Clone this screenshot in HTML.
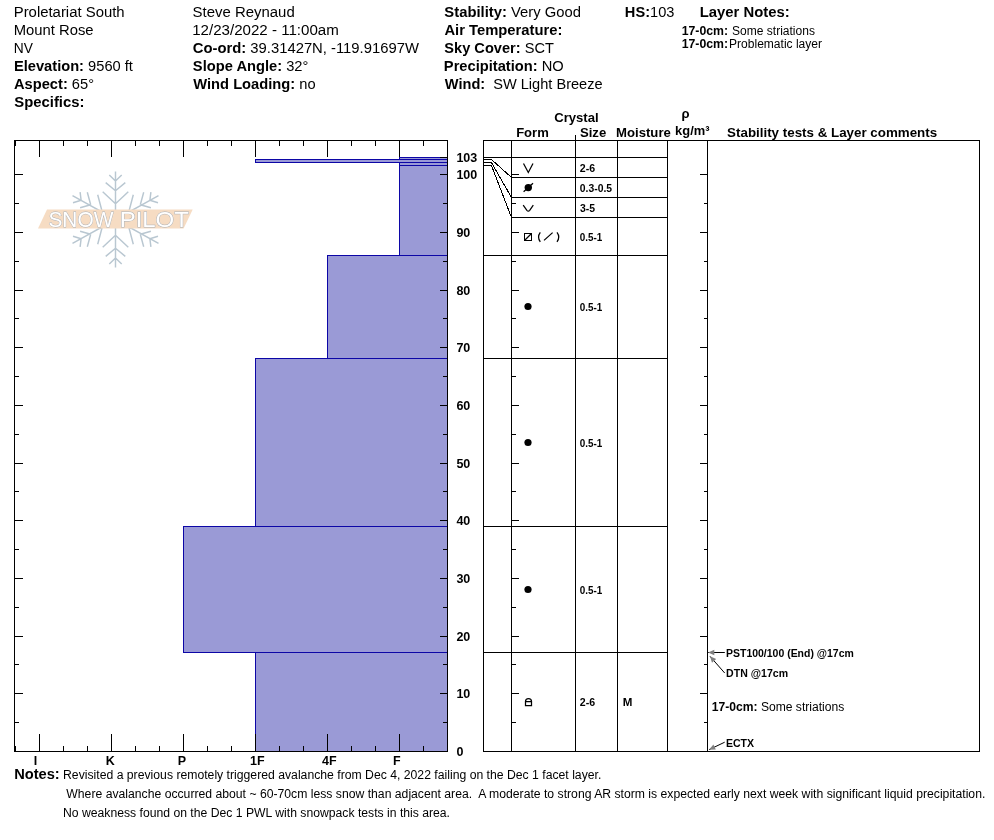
<!DOCTYPE html>
<html lang="en"><head><meta charset="utf-8"><title>Snow Pit Profile</title>
<style>
html,body{margin:0;padding:0;background:#fff;}
body{width:994px;height:840px;overflow:hidden;position:relative;font-family:"Liberation Sans",Arial,sans-serif;color:#000;}
svg{position:absolute;left:0;top:0;display:block;}
text{font-family:"Liberation Sans",Arial,sans-serif;fill:#000;}
.b{font-weight:bold;}
.h{font-size:14.67px;}
.n{font-size:12px;}
.s{font-size:10px;font-weight:bold;}
.ax{font-size:12.5px;font-weight:bold;}
.th{font-size:13px;font-weight:bold;}
.ln{stroke:#000;stroke-width:1;fill:none;shape-rendering:crispEdges;}
.sym{stroke:#000;stroke-width:1.25;fill:none;}
</style></head><body>
<svg width="994" height="840" viewBox="0 0 994 840">
<rect x="0" y="0" width="994" height="840" fill="#fff"/>
<text x="13.71" y="16.9" textLength="110.94" lengthAdjust="spacingAndGlyphs" style="font-size:14.9px" xml:space="preserve">Proletariat South</text>
<text x="13.71" y="34.9" textLength="79.9" lengthAdjust="spacingAndGlyphs" style="font-size:14.9px" xml:space="preserve">Mount Rose</text>
<text x="13.8" y="52.9" textLength="19.13" lengthAdjust="spacingAndGlyphs" style="font-size:14.9px" xml:space="preserve">NV</text>
<text x="13.95" y="70.9" textLength="119.0" lengthAdjust="spacingAndGlyphs" style="font-size:14.9px" xml:space="preserve"><tspan class="b">Elevation:</tspan> 9560 ft</text>
<text x="14.03" y="88.9" textLength="80.01" lengthAdjust="spacingAndGlyphs" style="font-size:14.9px" xml:space="preserve"><tspan class="b">Aspect:</tspan> 65°</text>
<text x="14.25" y="106.9" textLength="70.25" lengthAdjust="spacingAndGlyphs" style="font-size:14.9px" xml:space="preserve"><tspan class="b">Specifics:</tspan></text>
<text x="192.63" y="16.9" textLength="102.09" lengthAdjust="spacingAndGlyphs" style="font-size:14.9px" xml:space="preserve">Steve Reynaud</text>
<text x="192.17" y="34.9" textLength="146.66" lengthAdjust="spacingAndGlyphs" style="font-size:14.9px" xml:space="preserve">12/23/2022 - 11:00am</text>
<text x="192.71" y="52.9" textLength="226.21" lengthAdjust="spacingAndGlyphs" style="font-size:14.9px" xml:space="preserve"><tspan class="b">Co-ord:</tspan> 39.31427N, -119.91697W</text>
<text x="192.86" y="70.9" textLength="115.51" lengthAdjust="spacingAndGlyphs" style="font-size:14.9px" xml:space="preserve"><tspan class="b">Slope Angle:</tspan> 32°</text>
<text x="193.3" y="88.9" textLength="122.27" lengthAdjust="spacingAndGlyphs" style="font-size:14.9px" xml:space="preserve"><tspan class="b">Wind Loading:</tspan> no</text>
<text x="444.36" y="16.9" textLength="136.52" lengthAdjust="spacingAndGlyphs" style="font-size:14.9px" xml:space="preserve"><tspan class="b">Stability:</tspan> Very Good</text>
<text x="444.43" y="34.9" textLength="117.95" lengthAdjust="spacingAndGlyphs" style="font-size:14.9px" xml:space="preserve"><tspan class="b">Air Temperature:</tspan></text>
<text x="444.36" y="52.9" textLength="109.47" lengthAdjust="spacingAndGlyphs" style="font-size:14.9px" xml:space="preserve"><tspan class="b">Sky Cover:</tspan> SCT</text>
<text x="443.85" y="70.9" textLength="119.85" lengthAdjust="spacingAndGlyphs" style="font-size:14.9px" xml:space="preserve"><tspan class="b">Precipitation:</tspan> NO</text>
<text x="444.8" y="88.9" textLength="157.81" lengthAdjust="spacingAndGlyphs" style="font-size:14.9px" xml:space="preserve"><tspan class="b">Wind:</tspan>  SW Light Breeze</text>
<text x="624.85" y="16.9" textLength="49.55" lengthAdjust="spacingAndGlyphs" style="font-size:14.9px" xml:space="preserve"><tspan class="b">HS:</tspan>103</text>
<text x="699.73" y="16.9" textLength="90.05" lengthAdjust="spacingAndGlyphs" style="font-size:14.9px" xml:space="preserve"><tspan class="b">Layer Notes:</tspan></text>
<text x="681.66" y="34.8" textLength="46.4" lengthAdjust="spacingAndGlyphs" style="font-size:12px" xml:space="preserve"><tspan class="b">17-0cm:</tspan></text>
<text x="732.06" y="34.8" textLength="82.88" lengthAdjust="spacingAndGlyphs" style="font-size:12px" xml:space="preserve">Some striations</text>
<text x="681.66" y="47.8" textLength="46.4" lengthAdjust="spacingAndGlyphs" style="font-size:12px" xml:space="preserve"><tspan class="b">17-0cm:</tspan></text>
<text x="729.04" y="47.8" textLength="93.01" lengthAdjust="spacingAndGlyphs" style="font-size:12px" xml:space="preserve">Problematic layer</text>
<g stroke="#b9c7d1" stroke-width="1.45" stroke-linecap="butt" fill="none">
<path d="M115.5 219.5L115.5 171.5 M115.5 181.1L109.3 175.1 M115.5 181.1L121.7 175.1 M115.5 190.7L105.7 182.6 M115.5 190.7L125.3 182.6 M115.5 203.7L102.7 191.7 M115.5 203.7L128.3 191.7 M115.5 219.5L115.5 267.5 M115.5 257.9L109.3 263.9 M115.5 257.9L121.7 263.9 M115.5 248.3L105.7 256.4 M115.5 248.3L125.3 256.4 M115.5 235.3L102.7 247.3 M115.5 235.3L128.3 247.3 M115.5 219.5L72.5 195.7 M81.1 200.2L80.1 192.2 M81.1 200.2L73.0 202.7 M90.7 204.7L87.3 192.2 M90.7 204.7L80.1 207.8 M102.3 212.2L97.7 194.7 M102.3 212.2L89.5 216.5 M115.5 219.5L72.5 243.3 M81.1 238.8L80.1 246.8 M81.1 238.8L73.0 236.3 M90.7 234.3L87.3 246.8 M90.7 234.3L80.1 231.2 M102.3 226.8L97.7 244.3 M102.3 226.8L89.5 222.5 M115.5 219.5L158.5 195.7 M149.9 200.2L150.9 192.2 M149.9 200.2L158.0 202.7 M140.3 204.7L143.7 192.2 M140.3 204.7L150.9 207.8 M128.7 212.2L133.3 194.7 M128.7 212.2L141.5 216.5 M115.5 219.5L158.5 243.3 M149.9 238.8L150.9 246.8 M149.9 238.8L158.0 236.3 M140.3 234.3L143.7 246.8 M140.3 234.3L150.9 231.2 M128.7 226.8L133.3 244.3 M128.7 226.8L141.5 222.5"/>
</g>
<polygon points="47,209.5 192.7,209.5 183.6,228.6 38,228.6" fill="#f6dcc3"/>
<text y="227.3" lengthAdjust="spacingAndGlyphs" style="font-size:22.3px;fill:#fff;stroke:#a9b0b8;stroke-width:0.9;paint-order:stroke;"><tspan x="48.46" textLength="64.86" lengthAdjust="spacingAndGlyphs">SNOW</tspan> <tspan x="119.68" textLength="69.19" lengthAdjust="spacingAndGlyphs">PILOT</tspan></text>
<rect x="399.5" y="157.5" width="48" height="2" fill="#9a9ad6" stroke="#0c06a6" stroke-width="1" shape-rendering="crispEdges"/>
<rect x="255.5" y="159.5" width="192" height="3" fill="#9a9ad6" stroke="#0c06a6" stroke-width="1" shape-rendering="crispEdges"/>
<rect x="399.5" y="162.5" width="48" height="3" fill="#9a9ad6" stroke="#0c06a6" stroke-width="1" shape-rendering="crispEdges"/>
<rect x="399.5" y="165.5" width="48" height="90" fill="#9a9ad6" stroke="#0c06a6" stroke-width="1" shape-rendering="crispEdges"/>
<rect x="327.5" y="255.5" width="120" height="103" fill="#9a9ad6" stroke="#0c06a6" stroke-width="1" shape-rendering="crispEdges"/>
<rect x="255.5" y="358.5" width="192" height="168" fill="#9a9ad6" stroke="#0c06a6" stroke-width="1" shape-rendering="crispEdges"/>
<rect x="183.5" y="526.5" width="264" height="126" fill="#9a9ad6" stroke="#0c06a6" stroke-width="1" shape-rendering="crispEdges"/>
<rect x="255.5" y="652.5" width="192" height="99" fill="#9a9ad6" stroke="#0c06a6" stroke-width="1" shape-rendering="crispEdges"/>
<rect x="14" y="140" width="434" height="1" fill="#000" shape-rendering="crispEdges"/>
<rect x="14" y="751" width="434" height="1" fill="#000" shape-rendering="crispEdges"/>
<rect x="14" y="140" width="1" height="612" fill="#000" shape-rendering="crispEdges"/>
<rect x="447" y="140" width="1" height="612" fill="#000" shape-rendering="crispEdges"/>
<rect x="15" y="141" width="1" height="5" fill="#000" shape-rendering="crispEdges"/>
<rect x="15" y="746" width="1" height="5" fill="#000" shape-rendering="crispEdges"/>
<rect x="39" y="141" width="1" height="16" fill="#000" shape-rendering="crispEdges"/>
<rect x="39" y="734" width="1" height="17" fill="#000" shape-rendering="crispEdges"/>
<rect x="63" y="141" width="1" height="5" fill="#000" shape-rendering="crispEdges"/>
<rect x="63" y="746" width="1" height="5" fill="#000" shape-rendering="crispEdges"/>
<rect x="87" y="141" width="1" height="5" fill="#000" shape-rendering="crispEdges"/>
<rect x="87" y="746" width="1" height="5" fill="#000" shape-rendering="crispEdges"/>
<rect x="111" y="141" width="1" height="16" fill="#000" shape-rendering="crispEdges"/>
<rect x="111" y="734" width="1" height="17" fill="#000" shape-rendering="crispEdges"/>
<rect x="135" y="141" width="1" height="5" fill="#000" shape-rendering="crispEdges"/>
<rect x="135" y="746" width="1" height="5" fill="#000" shape-rendering="crispEdges"/>
<rect x="159" y="141" width="1" height="5" fill="#000" shape-rendering="crispEdges"/>
<rect x="159" y="746" width="1" height="5" fill="#000" shape-rendering="crispEdges"/>
<rect x="183" y="141" width="1" height="16" fill="#000" shape-rendering="crispEdges"/>
<rect x="183" y="734" width="1" height="17" fill="#000" shape-rendering="crispEdges"/>
<rect x="207" y="141" width="1" height="5" fill="#000" shape-rendering="crispEdges"/>
<rect x="207" y="746" width="1" height="5" fill="#000" shape-rendering="crispEdges"/>
<rect x="231" y="141" width="1" height="5" fill="#000" shape-rendering="crispEdges"/>
<rect x="231" y="746" width="1" height="5" fill="#000" shape-rendering="crispEdges"/>
<rect x="255" y="141" width="1" height="16" fill="#000" shape-rendering="crispEdges"/>
<rect x="255" y="734" width="1" height="17" fill="#000" shape-rendering="crispEdges"/>
<rect x="279" y="141" width="1" height="5" fill="#000" shape-rendering="crispEdges"/>
<rect x="279" y="746" width="1" height="5" fill="#000" shape-rendering="crispEdges"/>
<rect x="303" y="141" width="1" height="5" fill="#000" shape-rendering="crispEdges"/>
<rect x="303" y="746" width="1" height="5" fill="#000" shape-rendering="crispEdges"/>
<rect x="327" y="141" width="1" height="16" fill="#000" shape-rendering="crispEdges"/>
<rect x="327" y="734" width="1" height="17" fill="#000" shape-rendering="crispEdges"/>
<rect x="351" y="141" width="1" height="5" fill="#000" shape-rendering="crispEdges"/>
<rect x="351" y="746" width="1" height="5" fill="#000" shape-rendering="crispEdges"/>
<rect x="375" y="141" width="1" height="5" fill="#000" shape-rendering="crispEdges"/>
<rect x="375" y="746" width="1" height="5" fill="#000" shape-rendering="crispEdges"/>
<rect x="399" y="141" width="1" height="16" fill="#000" shape-rendering="crispEdges"/>
<rect x="399" y="734" width="1" height="17" fill="#000" shape-rendering="crispEdges"/>
<rect x="423" y="141" width="1" height="5" fill="#000" shape-rendering="crispEdges"/>
<rect x="423" y="746" width="1" height="5" fill="#000" shape-rendering="crispEdges"/>
<rect x="15" y="722" width="4" height="1" fill="#000" shape-rendering="crispEdges"/>
<rect x="443" y="722" width="4" height="1" fill="#000" shape-rendering="crispEdges"/>
<rect x="15" y="693" width="8" height="1" fill="#000" shape-rendering="crispEdges"/>
<rect x="440" y="693" width="7" height="1" fill="#000" shape-rendering="crispEdges"/>
<rect x="15" y="664" width="4" height="1" fill="#000" shape-rendering="crispEdges"/>
<rect x="443" y="664" width="4" height="1" fill="#000" shape-rendering="crispEdges"/>
<rect x="15" y="636" width="8" height="1" fill="#000" shape-rendering="crispEdges"/>
<rect x="440" y="636" width="7" height="1" fill="#000" shape-rendering="crispEdges"/>
<rect x="15" y="607" width="4" height="1" fill="#000" shape-rendering="crispEdges"/>
<rect x="443" y="607" width="4" height="1" fill="#000" shape-rendering="crispEdges"/>
<rect x="15" y="578" width="8" height="1" fill="#000" shape-rendering="crispEdges"/>
<rect x="440" y="578" width="7" height="1" fill="#000" shape-rendering="crispEdges"/>
<rect x="15" y="549" width="4" height="1" fill="#000" shape-rendering="crispEdges"/>
<rect x="443" y="549" width="4" height="1" fill="#000" shape-rendering="crispEdges"/>
<rect x="15" y="520" width="8" height="1" fill="#000" shape-rendering="crispEdges"/>
<rect x="440" y="520" width="7" height="1" fill="#000" shape-rendering="crispEdges"/>
<rect x="15" y="491" width="4" height="1" fill="#000" shape-rendering="crispEdges"/>
<rect x="443" y="491" width="4" height="1" fill="#000" shape-rendering="crispEdges"/>
<rect x="15" y="463" width="8" height="1" fill="#000" shape-rendering="crispEdges"/>
<rect x="440" y="463" width="7" height="1" fill="#000" shape-rendering="crispEdges"/>
<rect x="15" y="434" width="4" height="1" fill="#000" shape-rendering="crispEdges"/>
<rect x="443" y="434" width="4" height="1" fill="#000" shape-rendering="crispEdges"/>
<rect x="15" y="405" width="8" height="1" fill="#000" shape-rendering="crispEdges"/>
<rect x="440" y="405" width="7" height="1" fill="#000" shape-rendering="crispEdges"/>
<rect x="15" y="376" width="4" height="1" fill="#000" shape-rendering="crispEdges"/>
<rect x="443" y="376" width="4" height="1" fill="#000" shape-rendering="crispEdges"/>
<rect x="15" y="347" width="8" height="1" fill="#000" shape-rendering="crispEdges"/>
<rect x="440" y="347" width="7" height="1" fill="#000" shape-rendering="crispEdges"/>
<rect x="15" y="318" width="4" height="1" fill="#000" shape-rendering="crispEdges"/>
<rect x="443" y="318" width="4" height="1" fill="#000" shape-rendering="crispEdges"/>
<rect x="15" y="290" width="8" height="1" fill="#000" shape-rendering="crispEdges"/>
<rect x="440" y="290" width="7" height="1" fill="#000" shape-rendering="crispEdges"/>
<rect x="15" y="261" width="4" height="1" fill="#000" shape-rendering="crispEdges"/>
<rect x="443" y="261" width="4" height="1" fill="#000" shape-rendering="crispEdges"/>
<rect x="15" y="232" width="8" height="1" fill="#000" shape-rendering="crispEdges"/>
<rect x="440" y="232" width="7" height="1" fill="#000" shape-rendering="crispEdges"/>
<rect x="15" y="203" width="4" height="1" fill="#000" shape-rendering="crispEdges"/>
<rect x="443" y="203" width="4" height="1" fill="#000" shape-rendering="crispEdges"/>
<rect x="15" y="174" width="8" height="1" fill="#000" shape-rendering="crispEdges"/>
<rect x="440" y="174" width="7" height="1" fill="#000" shape-rendering="crispEdges"/>
<rect x="440" y="157" width="7" height="1" fill="#000" shape-rendering="crispEdges"/>
<text x="456.4" y="755.5" class="ax">0</text>
<text x="456.4" y="697.5" class="ax">10</text>
<text x="456.4" y="640.5" class="ax">20</text>
<text x="456.4" y="582.5" class="ax">30</text>
<text x="456.4" y="524.5" class="ax">40</text>
<text x="456.4" y="467.5" class="ax">50</text>
<text x="456.4" y="409.5" class="ax">60</text>
<text x="456.4" y="351.5" class="ax">70</text>
<text x="456.4" y="294.5" class="ax">80</text>
<text x="456.4" y="236.5" class="ax">90</text>
<text x="456.4" y="178.5" class="ax">100</text>
<text x="456.4" y="161.7" class="ax">103</text>
<text x="33.8" y="764.5" class="ax">I</text>
<text x="105.8" y="764.5" class="ax">K</text>
<text x="177.8" y="764.5" class="ax">P</text>
<text x="250" y="764.5" class="ax">1F</text>
<text x="322" y="764.5" class="ax">4F</text>
<text x="393" y="764.5" class="ax">F</text>
<rect x="483" y="140" width="497" height="1" fill="#000" shape-rendering="crispEdges"/>
<rect x="483" y="751" width="497" height="1" fill="#000" shape-rendering="crispEdges"/>
<rect x="483" y="140" width="1" height="612" fill="#000" shape-rendering="crispEdges"/>
<rect x="979" y="140" width="1" height="612" fill="#000" shape-rendering="crispEdges"/>
<rect x="511" y="140" width="1" height="612" fill="#000" shape-rendering="crispEdges"/>
<rect x="575" y="135" width="1" height="617" fill="#000" shape-rendering="crispEdges"/>
<rect x="617" y="140" width="1" height="612" fill="#000" shape-rendering="crispEdges"/>
<rect x="667" y="140" width="1" height="612" fill="#000" shape-rendering="crispEdges"/>
<rect x="707" y="140" width="1" height="612" fill="#000" shape-rendering="crispEdges"/>
<rect x="511" y="157" width="157" height="1" fill="#000" shape-rendering="crispEdges"/>
<rect x="511" y="177" width="157" height="1" fill="#000" shape-rendering="crispEdges"/>
<rect x="511" y="197" width="157" height="1" fill="#000" shape-rendering="crispEdges"/>
<rect x="511" y="217" width="157" height="1" fill="#000" shape-rendering="crispEdges"/>
<rect x="511" y="255" width="157" height="1" fill="#000" shape-rendering="crispEdges"/>
<rect x="511" y="358" width="157" height="1" fill="#000" shape-rendering="crispEdges"/>
<rect x="511" y="526" width="157" height="1" fill="#000" shape-rendering="crispEdges"/>
<rect x="511" y="652" width="157" height="1" fill="#000" shape-rendering="crispEdges"/>
<rect x="483" y="157" width="29" height="1" fill="#000" shape-rendering="crispEdges"/>
<rect x="483" y="255" width="29" height="1" fill="#000" shape-rendering="crispEdges"/>
<rect x="483" y="358" width="29" height="1" fill="#000" shape-rendering="crispEdges"/>
<rect x="483" y="526" width="29" height="1" fill="#000" shape-rendering="crispEdges"/>
<rect x="483" y="652" width="29" height="1" fill="#000" shape-rendering="crispEdges"/>
<path d="M483.5 159.5H491.5L511.5 177.5" class="ln"/>
<path d="M483.5 162.5H491.5L511.5 197.5" class="ln"/>
<path d="M483.5 165.5H491.5L511.5 217.5" class="ln"/>
<rect x="512" y="722" width="4" height="1" fill="#000" shape-rendering="crispEdges"/>
<rect x="704" y="722" width="3" height="1" fill="#000" shape-rendering="crispEdges"/>
<rect x="512" y="693" width="7" height="1" fill="#000" shape-rendering="crispEdges"/>
<rect x="700" y="693" width="7" height="1" fill="#000" shape-rendering="crispEdges"/>
<rect x="512" y="664" width="4" height="1" fill="#000" shape-rendering="crispEdges"/>
<rect x="704" y="664" width="3" height="1" fill="#000" shape-rendering="crispEdges"/>
<rect x="512" y="636" width="7" height="1" fill="#000" shape-rendering="crispEdges"/>
<rect x="700" y="636" width="7" height="1" fill="#000" shape-rendering="crispEdges"/>
<rect x="512" y="607" width="4" height="1" fill="#000" shape-rendering="crispEdges"/>
<rect x="704" y="607" width="3" height="1" fill="#000" shape-rendering="crispEdges"/>
<rect x="512" y="578" width="7" height="1" fill="#000" shape-rendering="crispEdges"/>
<rect x="700" y="578" width="7" height="1" fill="#000" shape-rendering="crispEdges"/>
<rect x="512" y="549" width="4" height="1" fill="#000" shape-rendering="crispEdges"/>
<rect x="704" y="549" width="3" height="1" fill="#000" shape-rendering="crispEdges"/>
<rect x="512" y="520" width="7" height="1" fill="#000" shape-rendering="crispEdges"/>
<rect x="700" y="520" width="7" height="1" fill="#000" shape-rendering="crispEdges"/>
<rect x="512" y="491" width="4" height="1" fill="#000" shape-rendering="crispEdges"/>
<rect x="704" y="491" width="3" height="1" fill="#000" shape-rendering="crispEdges"/>
<rect x="512" y="463" width="7" height="1" fill="#000" shape-rendering="crispEdges"/>
<rect x="700" y="463" width="7" height="1" fill="#000" shape-rendering="crispEdges"/>
<rect x="512" y="434" width="4" height="1" fill="#000" shape-rendering="crispEdges"/>
<rect x="704" y="434" width="3" height="1" fill="#000" shape-rendering="crispEdges"/>
<rect x="512" y="405" width="7" height="1" fill="#000" shape-rendering="crispEdges"/>
<rect x="700" y="405" width="7" height="1" fill="#000" shape-rendering="crispEdges"/>
<rect x="512" y="376" width="4" height="1" fill="#000" shape-rendering="crispEdges"/>
<rect x="704" y="376" width="3" height="1" fill="#000" shape-rendering="crispEdges"/>
<rect x="512" y="347" width="7" height="1" fill="#000" shape-rendering="crispEdges"/>
<rect x="700" y="347" width="7" height="1" fill="#000" shape-rendering="crispEdges"/>
<rect x="512" y="318" width="4" height="1" fill="#000" shape-rendering="crispEdges"/>
<rect x="704" y="318" width="3" height="1" fill="#000" shape-rendering="crispEdges"/>
<rect x="512" y="290" width="7" height="1" fill="#000" shape-rendering="crispEdges"/>
<rect x="700" y="290" width="7" height="1" fill="#000" shape-rendering="crispEdges"/>
<rect x="512" y="261" width="4" height="1" fill="#000" shape-rendering="crispEdges"/>
<rect x="704" y="261" width="3" height="1" fill="#000" shape-rendering="crispEdges"/>
<rect x="512" y="232" width="7" height="1" fill="#000" shape-rendering="crispEdges"/>
<rect x="700" y="232" width="7" height="1" fill="#000" shape-rendering="crispEdges"/>
<rect x="512" y="203" width="4" height="1" fill="#000" shape-rendering="crispEdges"/>
<rect x="704" y="203" width="3" height="1" fill="#000" shape-rendering="crispEdges"/>
<rect x="512" y="174" width="7" height="1" fill="#000" shape-rendering="crispEdges"/>
<rect x="700" y="174" width="7" height="1" fill="#000" shape-rendering="crispEdges"/>
<text x="554.18" y="122" textLength="44.49" lengthAdjust="spacingAndGlyphs" style="font-size:13px" xml:space="preserve"><tspan class="b">Crystal</tspan></text>
<text x="516.15" y="136.6" textLength="32.63" lengthAdjust="spacingAndGlyphs" style="font-size:13px" xml:space="preserve"><tspan class="b">Form</tspan></text>
<text x="579.91" y="136.6" textLength="26.3" lengthAdjust="spacingAndGlyphs" style="font-size:13px" xml:space="preserve"><tspan class="b">Size</tspan></text>
<text x="616.05" y="136.6" textLength="54.78" lengthAdjust="spacingAndGlyphs" style="font-size:13px" xml:space="preserve"><tspan class="b">Moisture</tspan></text>
<text x="681.5" y="117.7" class="th">ρ</text>
<text x="675.1" y="134.6" textLength="34.39" lengthAdjust="spacingAndGlyphs" style="font-size:13px" xml:space="preserve"><tspan class="b">kg/m³</tspan></text>
<text x="727.1" y="136.6" textLength="210.07" lengthAdjust="spacingAndGlyphs" style="font-size:13px" xml:space="preserve"><tspan class="b">Stability tests &amp; Layer comments</tspan></text>
<text x="579.83" y="171.8" textLength="15.35" lengthAdjust="spacingAndGlyphs" style="font-size:10.4px" xml:space="preserve"><tspan class="b">2-6</tspan></text>
<text x="579.79" y="191.8" textLength="32.26" lengthAdjust="spacingAndGlyphs" style="font-size:10.4px" xml:space="preserve"><tspan class="b">0.3-0.5</tspan></text>
<text x="579.94" y="211.6" textLength="15.13" lengthAdjust="spacingAndGlyphs" style="font-size:10.4px" xml:space="preserve"><tspan class="b">3-5</tspan></text>
<text x="579.8" y="240.8" textLength="22.54" lengthAdjust="spacingAndGlyphs" style="font-size:10.4px" xml:space="preserve"><tspan class="b">0.5-1</tspan></text>
<text x="579.8" y="310.7" textLength="22.54" lengthAdjust="spacingAndGlyphs" style="font-size:10.4px" xml:space="preserve"><tspan class="b">0.5-1</tspan></text>
<text x="579.8" y="446.8" textLength="22.54" lengthAdjust="spacingAndGlyphs" style="font-size:10.4px" xml:space="preserve"><tspan class="b">0.5-1</tspan></text>
<text x="579.8" y="593.8" textLength="22.54" lengthAdjust="spacingAndGlyphs" style="font-size:10.4px" xml:space="preserve"><tspan class="b">0.5-1</tspan></text>
<text x="579.83" y="706.2" textLength="15.35" lengthAdjust="spacingAndGlyphs" style="font-size:10.4px" xml:space="preserve"><tspan class="b">2-6</tspan></text>
<text x="622.75" y="706.2" textLength="9.64" lengthAdjust="spacingAndGlyphs" style="font-size:10.4px" xml:space="preserve"><tspan class="b">M</tspan></text>
<path d="M523.5 163.5L528.3 172.5L533 163.5" class="sym"/>
<circle cx="528.3" cy="187.6" r="3.7" fill="#000"/><path d="M523.6 191.8L533 183.3" class="sym"/>
<path d="M523.2 205.2L526.9 210.3Q528.3 212 529.7 210.3L533.3 205.2" class="sym"/>
<rect x="524.5" y="233.5" width="7" height="7" class="sym" shape-rendering="crispEdges"/><path d="M524.5 240.5L531.5 233.5" class="sym"/>
<path d="M540.3 232.3Q536.8 237 540.3 241.8M557 232.3Q560.5 237 557 241.8M544 240.4L552.6 232.6" class="sym"/>
<circle cx="528" cy="306.5" r="3.6" fill="#000"/>
<circle cx="528" cy="442.5" r="3.6" fill="#000"/>
<circle cx="528" cy="589.5" r="3.6" fill="#000"/>
<path d="M525.5 701.5H531.5V705.5H525.5ZM525.5 701.5C525.5 699.5 526.5 698.5 528.5 698.5C530.5 698.5 531.5 699.5 531.5 701.5" class="sym"/>
<path d="M724.8 652.5L708.1 652.5" stroke="#000" stroke-width="1" fill="none"/>
<polygon points="708.1,652.5 714.3,655.3 714.3,649.7" fill="#808080"/>
<path d="M724.7 673L710 656.3" stroke="#000" stroke-width="1" fill="none"/>
<polygon points="710,656.3 712.0,662.8 716.2,659.1" fill="#808080"/>
<path d="M724.7 742.2L709 749.7" stroke="#000" stroke-width="1" fill="none"/>
<polygon points="709,749.7 715.8,749.5 713.4,744.5" fill="#808080"/>
<text x="726.02" y="657.1" textLength="127.79" lengthAdjust="spacingAndGlyphs" style="font-size:10.4px" xml:space="preserve"><tspan class="b">PST100/100 (End) @17cm</tspan></text>
<text x="726.11" y="676.8" textLength="61.93" lengthAdjust="spacingAndGlyphs" style="font-size:10.4px" xml:space="preserve"><tspan class="b">DTN @17cm</tspan></text>
<text x="725.91" y="746.7" textLength="28.16" lengthAdjust="spacingAndGlyphs" style="font-size:10.4px" xml:space="preserve"><tspan class="b">ECTX</tspan></text>
<text x="711.77" y="710.5" textLength="132.54" lengthAdjust="spacingAndGlyphs" style="font-size:12px" xml:space="preserve"><tspan class="b">17-0cm:</tspan> Some striations</text>
<text x="14.15" y="778.7" textLength="45.59" lengthAdjust="spacingAndGlyphs" style="font-size:14.67px" xml:space="preserve"><tspan class="b">Notes:</tspan></text>
<text x="63.02" y="778.7" textLength="538.34" lengthAdjust="spacingAndGlyphs" style="font-size:12px" xml:space="preserve">Revisited a previous remotely triggered avalanche from Dec 4, 2022 failing on the Dec 1 facet layer.</text>
<text x="66.34" y="797.8" textLength="918.99" lengthAdjust="spacingAndGlyphs" style="font-size:12px" xml:space="preserve">Where avalanche occurred about ~ 60-70cm less snow than adjacent area.  A moderate to strong AR storm is expected early next week with significant liquid precipitation.</text>
<text x="63.03" y="816.8" textLength="387.0" lengthAdjust="spacingAndGlyphs" style="font-size:12px" xml:space="preserve">No weakness found on the Dec 1 PWL with snowpack tests in this area.</text>
</svg></body></html>
